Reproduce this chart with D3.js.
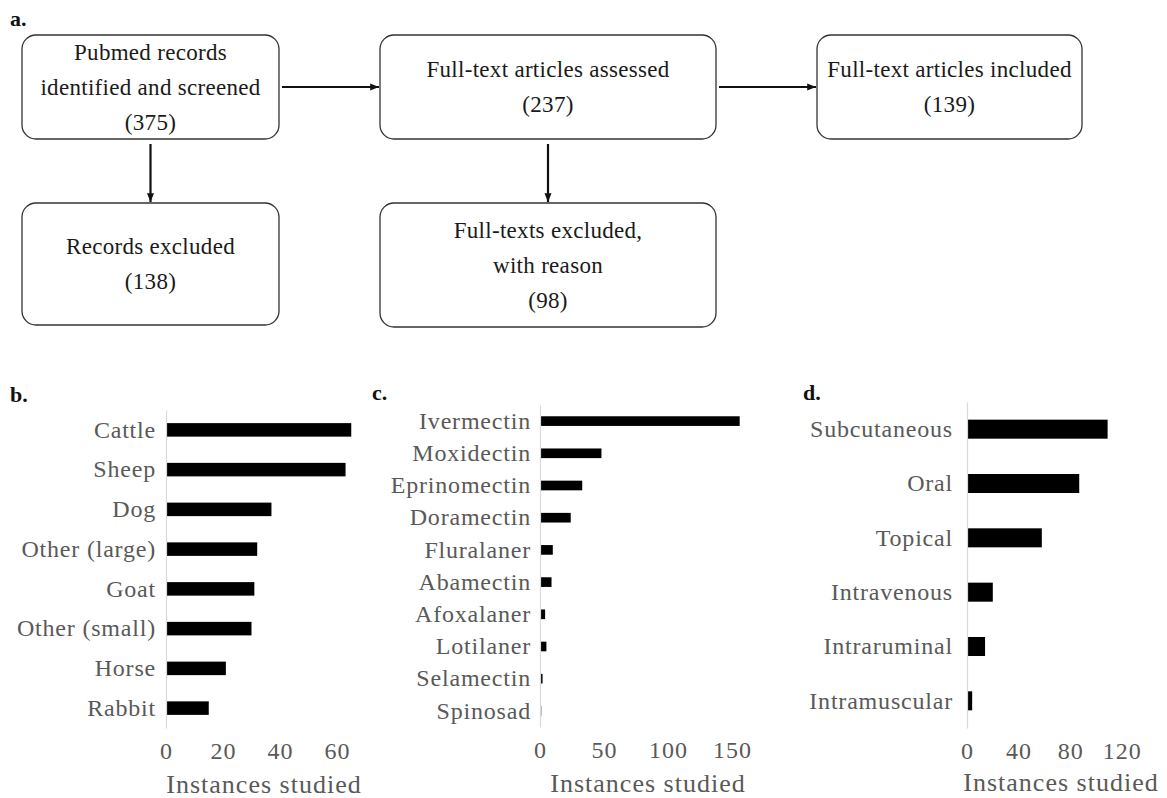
<!DOCTYPE html>
<html>
<head>
<meta charset="utf-8">
<script src="https://cdn.jsdelivr.net/npm/d3@7"></script>
<style>
  body { margin: 0; background: #fff; }
  svg { display: block; }
</style>
</head>
<body>
<svg id="chart"></svg>
<script>
var width = 1167, height = 798;
var serif = '"Liberation Serif", "Times New Roman", serif';

// flowchart (panel a)
var flowLabels = [
  ["Pubmed records", "identified and screened", "(375)"],
  ["Records excluded", "(138)"],
  ["Full-text articles assessed", "(237)"],
  ["Full-texts excluded,", "with reason", "(98)"],
  ["Full-text articles included", "(139)"]
];
var flowLinks = [[0, 2], [0, 1], [2, 3], [2, 4]];

// panel b: species
var speciesNames = ["Cattle", "Sheep", "Dog", "Other (large)", "Goat", "Other (small)", "Horse", "Rabbit"];
var speciesCounts = [65, 63, 37, 32, 31, 30, 21, 15];
var speciesTicks = [0, 20, 40, 60];

// panel c: drugs
var drugNames = ["Ivermectin", "Moxidectin", "Eprinomectin", "Doramectin", "Fluralaner", "Abamectin", "Afoxalaner", "Lotilaner", "Selamectin", "Spinosad"];
var drugCounts = [156, 48, 33, 24, 10, 9, 4, 5, 2, 1];
var drugTicks = [0, 50, 100, 150];

// panel d: routes
var routeNames = ["Subcutaneous", "Oral", "Topical", "Intravenous", "Intraruminal", "Intramuscular"];
var routeCounts = [109, 87, 58, 20, 14, 4];
var routeTicks = [0, 40, 80, 120];

var axisTitle = "Instances studied";

var svg = d3.select("#chart").attr("width", width).attr("height", height);

svg.append("defs").append("marker")
  .attr("id", "arrow")
  .attr("viewBox", "0 0 10 10")
  .attr("refX", 10).attr("refY", 5)
  .attr("markerWidth", 4).attr("markerHeight", 4)
  .attr("orient", "auto")
  .append("path")
  .attr("d", "M0,1 L10,5 L0,9 Z")
  .attr("fill", "#111");

function panelLabel(x, y, t) {
  svg.append("text")
    .attr("x", x).attr("y", y)
    .style("font-family", serif)
    .attr("font-size", 22)
    .attr("font-weight", "bold")
    .attr("fill", "#111")
    .text(t);
}

// ---------- panel a ----------
function drawFlow() {
  panelLabel(10, 26, "a.");

  var boxes = [
    { x: 22, y: 35, w: 257, h: 104 },
    { x: 22, y: 203, w: 257, h: 122 },
    { x: 380, y: 35, w: 336, h: 104 },
    { x: 380, y: 203, w: 336, h: 124 },
    { x: 817, y: 35, w: 265, h: 104 }
  ];
  var lineGap = 35;

  var g = svg.append("g").attr("class", "flow");

  boxes.forEach((b, i) => {
    g.append("rect")
      .attr("x", b.x).attr("y", b.y)
      .attr("width", b.w).attr("height", b.h)
      .attr("rx", 14).attr("ry", 14)
      .attr("fill", "#fff")
      .attr("stroke", "#333")
      .attr("stroke-width", 1.3);

    var lines = flowLabels[i];
    var cy = b.y + b.h / 2 - (lines.length - 1) * lineGap / 2;
    g.selectAll(null)
      .data(lines)
      .enter()
      .append("text")
      .attr("x", b.x + b.w / 2)
      .attr("y", (d, k) => cy + k * lineGap)
      .attr("text-anchor", "middle")
      .attr("dominant-baseline", "central")
      .style("font-family", serif)
      .style("letter-spacing", "0.3px")
      .attr("font-size", 23)
      .attr("fill", "#1a1a1a")
      .text((d) => d);
  });

  flowLinks.forEach(([a, b]) => {
    var s = boxes[a], t = boxes[b];
    var x1, y1, x2, y2;
    if (t.y > s.y + s.h) {
      x1 = x2 = s.x + s.w / 2;
      y1 = s.y + s.h + 5;
      y2 = t.y - 1;
    } else {
      y1 = y2 = s.y + s.h / 2;
      x1 = s.x + s.w + 3;
      x2 = t.x - 1;
    }
    g.append("line")
      .attr("x1", x1).attr("y1", y1)
      .attr("x2", x2).attr("y2", y2)
      .attr("stroke", "#111")
      .attr("stroke-width", 2.2)
      .attr("marker-end", "url(#arrow)");
  });
}

// ---------- bar panels ----------
function drawBars(opt) {
  var x = d3.scaleLinear().domain(opt.domain).range([opt.x0, opt.x0 + opt.pxPerUnit * opt.domain[1]]);
  var y = d3.scaleBand().domain(opt.names).range([opt.y0, opt.y1]).paddingInner(opt.pad).paddingOuter(opt.pad / 2);

  var g = svg.append("g");

  g.selectAll("rect.bar")
    .data(opt.names)
    .enter()
    .append("rect")
    .attr("class", "bar")
    .attr("x", x(0) + 1)
    .attr("y", (d) => y(d))
    .attr("width", (d, i) => Math.max(0, x(opt.values[i]) - x(0) - 1))
    .attr("height", y.bandwidth())
    .attr("fill", "#000");

  var yAxis = g.append("g")
    .attr("transform", `translate(${x(0)},0)`)
    .call(d3.axisLeft(y).tickSize(0).tickSizeOuter(0).tickPadding(opt.labelPad));
  yAxis.select(".domain").attr("stroke", "#d9d9d9").attr("stroke-width", 1.2);
  yAxis.selectAll("text")
    .style("font-family", serif)
    .style("letter-spacing", "0.8px")
    .attr("font-size", 24)
    .attr("fill", "#595959");

  var xAxis = g.append("g")
    .attr("transform", `translate(0,${opt.tickY})`)
    .call(d3.axisBottom(x).tickValues(opt.ticks).tickSize(0).tickPadding(0));
  xAxis.select(".domain").remove();
  xAxis.selectAll("text")
    .style("font-family", serif)
    .style("letter-spacing", "1px")
    .attr("font-size", 24)
    .attr("fill", "#595959")
    .attr("dy", "0.32em")
    .attr("y", 0);

  g.append("text")
    .attr("x", opt.titleX)
    .attr("y", opt.titleY)
    .attr("text-anchor", "middle")
    .attr("dominant-baseline", "central")
    .style("font-family", serif)
    .style("letter-spacing", "1px")
    .attr("font-size", 26)
    .attr("fill", "#595959")
    .text(axisTitle);
}

drawFlow();

panelLabel(10, 402, "b.");
drawBars({
  names: speciesNames, values: speciesCounts, ticks: speciesTicks,
  domain: [0, 70], x0: 166, pxPerUnit: 2.85,
  y0: 410, y1: 728, pad: 0.66, labelPad: 10,
  tickY: 751, titleX: 264, titleY: 784
});

panelLabel(372, 400, "c.");
drawBars({
  names: drugNames, values: drugCounts, ticks: drugTicks,
  domain: [0, 160], x0: 540, pxPerUnit: 1.28,
  y0: 405, y1: 727, pad: 0.7, labelPad: 9,
  tickY: 750, titleX: 648, titleY: 783
});

panelLabel(803, 400, "d.");
drawBars({
  names: routeNames, values: routeCounts, ticks: routeTicks,
  domain: [0, 130], x0: 967, pxPerUnit: 1.29,
  y0: 402, y1: 728, pad: 0.65, labelPad: 14,
  tickY: 751, titleX: 1061, titleY: 782
});
</script>
</body>
</html>
